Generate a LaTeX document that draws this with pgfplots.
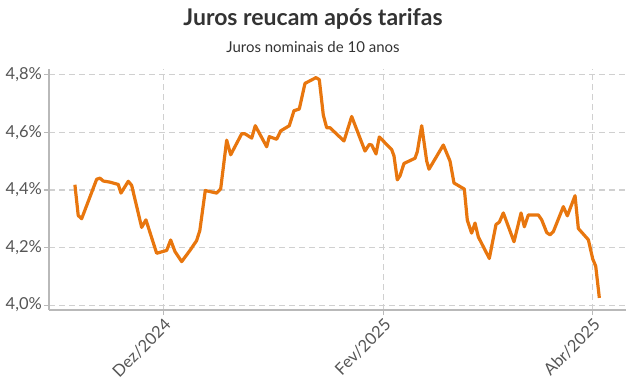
\documentclass[border=0pt]{standalone}
\usepackage{fontspec}
\setmainfont{Lato}
\usepackage{pgfplots}
\pgfplotsset{compat=1.18}
\definecolor{lineorange}{RGB}{232,118,14}
\definecolor{gridgray}{RGB}{208,208,208}
\definecolor{axisgray}{RGB}{185,185,185}
\definecolor{labelgray}{RGB}{85,85,85}
\definecolor{titlegray}{RGB}{51,51,51}
\begin{document}
\begin{tikzpicture}[x=1pt,y=1pt]
\useasboundingbox (0,0) rectangle (626,385);
\node[font=\fontsize{23}{26}\selectfont\bfseries, text=titlegray] at (313,366) {Juros reucam após tarifas};
\node[font=\fontsize{15}{18}\selectfont, text=titlegray] at (313,338) {Juros nominais de 10 anos};
\begin{axis}[
  at={(49pt,75pt)}, anchor=south west,
  scale only axis, width=577pt, height=241pt,
  xmin=-32.2, xmax=130.4, ymin=3.983, ymax=4.82,
  axis lines*=left,
  axis line style={axisgray, line width=1.4pt, -},
  xtick={0,62,121},
  xticklabels={Dez/2024,Fev/2025,Abr/2025},
  ytick={4.0,4.2,4.4,4.6,4.8},
  yticklabels={{4,0\%},{4,2\%},{4,4\%},{4,6\%},{4,8\%}},
  tick align=outside,
  major tick length=5pt,
  tick style={axisgray, line width=1.2pt},
  grid=major,
  major grid style={gridgray, line width=1.2pt, dash pattern=on 6pt off 4pt},
  ticklabel style={font=\fontsize{16.5}{19}\selectfont, text=labelgray},
  xticklabel style={rotate=45, anchor=north east, inner sep=1.5pt},
  yticklabel style={inner sep=2pt},
  /pgf/number format/assume math mode=true,
  clip=false,
]
\addplot[lineorange, line width=3.2pt, line join=round] coordinates {
(-24.9,4.418) (-23.96,4.311) (-23.0,4.300) (-18.77,4.437) (-17.84,4.441)
(-16.91,4.431) (-15.02,4.427) (-12.68,4.419) (-11.92,4.389) (-9.86,4.430)
(-8.91,4.416) (-6.09,4.270) (-4.88,4.296) (-1.86,4.180) (0.96,4.190)
(2.09,4.226) (3.30,4.186) (5.19,4.151) (7.53,4.190) (9.4,4.224)
(10.3,4.259) (11.84,4.398) (15.05,4.389) (16.18,4.404) (17.87,4.573)
(19.0,4.522) (22.1,4.595) (23.03,4.595) (24.92,4.580) (25.93,4.623)
(29.14,4.550) (29.88,4.585) (31.96,4.576) (33.09,4.605) (35.51,4.623)
(36.84,4.675) (38.33,4.681) (39.94,4.770) (43.04,4.790) (43.97,4.783)
(45.10,4.660) (46.05,4.616) (46.98,4.616) (50.93,4.570) (53.10,4.655)
(56.85,4.535) (58.06,4.558) (58.74,4.556) (59.95,4.525) (60.88,4.584)
(64.37,4.540) (65.02,4.518) (65.95,4.435) (66.71,4.449) (67.84,4.492)
(70.94,4.510) (71.59,4.533) (72.83,4.623) (74.24,4.500) (74.89,4.472)
(78.92,4.556) (80.81,4.500) (81.93,4.424) (84.84,4.403) (85.68,4.295)
(86.9,4.250) (87.85,4.285) (88.78,4.237) (91.88,4.162) (93.77,4.280)
(94.70,4.288) (95.83,4.320) (98.84,4.220) (100.82,4.320) (101.75,4.272)
(102.87,4.313) (105.69,4.313) (106.65,4.296) (108.06,4.252) (108.99,4.244)
(109.92,4.255) (112.74,4.342) (113.87,4.310) (116.04,4.380) (116.97,4.266)
(119.79,4.227) (121.03,4.160) (121.87,4.135) (122.89,4.025)
};
\end{axis}
\end{tikzpicture}
\end{document}
